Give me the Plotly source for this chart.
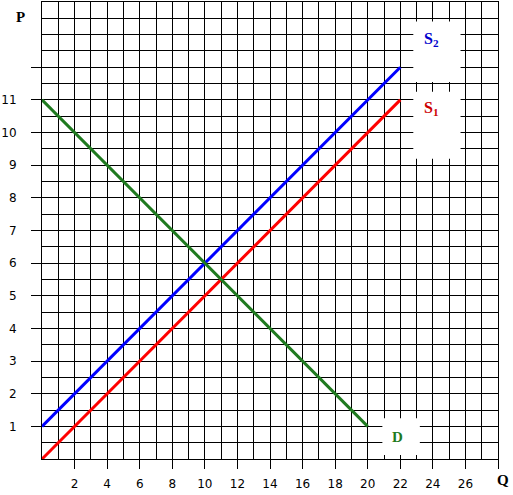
import plotly.graph_objects as go

# data
s1_q = [0, 22]
s1_p = [0, 11]
s2_q = [0, 22]
s2_p = [1, 12]
d_q = [0, 20]
d_p = [11, 1]
x_ticks = [2, 4, 6, 8, 10, 12, 14, 16, 18, 20, 22, 24, 26, 28]
x_labels = ["2", "4", "6", "8", "10", "12", "14", "16", "18", "20", "22", "24", "26", ""]
y_ticks = [1, 2, 3, 4, 5, 6, 7, 8, 9, 10, 11, 12]
y_labels = ["1", "2", "3", "4", "5", "6", "7", "8", "9", "10", "11", ""]

fig = go.Figure()
fig.add_trace(go.Scatter(x=s2_q, y=s2_p, mode="lines", line=dict(color="#0000ff", width=3), showlegend=False))
fig.add_trace(go.Scatter(x=s1_q, y=s1_p, mode="lines", line=dict(color="#ff0000", width=3), showlegend=False))
fig.add_trace(go.Scatter(x=d_q, y=d_p, mode="lines", line=dict(color="#1f7a1f", width=3), showlegend=False))

# white label boxes
for x0, x1, y0, y1 in [(22.8, 25.7, 11.55, 13.4), (22.8, 25.7, 9.2, 11.25), (20.9, 23.2, 0.12, 1.25)]:
    fig.add_shape(type="rect", xref="x", yref="y", x0=x0, x1=x1, y0=y0, y1=y1,
                  fillcolor="white", line=dict(width=0), layer="above")

serif = "Liberation Serif"
ann = dict(showarrow=False, xanchor="center", yanchor="middle")
fig.add_annotation(x=23.9, y=12.84, xref="x", yref="y", text="<b>S<sub>2</sub></b>",
                   font=dict(family=serif, size=16, color="#0000cc"), **ann)
fig.add_annotation(x=23.9, y=10.75, xref="x", yref="y", text="<b>S<sub>1</sub></b>",
                   font=dict(family=serif, size=16, color="#cc0000"), **ann)
fig.add_annotation(x=21.85, y=0.67, xref="x", yref="y", text="<b>D</b>",
                   font=dict(family=serif, size=15, color="#1f7a1f"), **ann)
fig.add_annotation(x=-0.048, y=0.967, xref="x domain", yref="y domain", text="<b>P</b>",
                   font=dict(family=serif, size=15, color="black"), **ann)
fig.add_annotation(x=1.011, y=-0.046, xref="x domain", yref="y domain", text="<b>Q</b>",
                   font=dict(family=serif, size=15, color="black"), **ann)

fig.update_xaxes(range=[0, 28], tickmode="array", tickvals=x_ticks, ticktext=x_labels,
                 ticks="outside", ticklen=9, tickcolor="black", tickwidth=1,
                 showgrid=True, gridcolor="black", gridwidth=1, zeroline=False,
                 showline=True, linecolor="black", linewidth=1, mirror=True,
                 minor=dict(dtick=1, tick0=0, showgrid=True, gridcolor="black", gridwidth=1),
                 tickfont=dict(family="DejaVu Sans", size=12, color="black"), ticklabelstandoff=5)
fig.update_yaxes(range=[0, 14], tickmode="array", tickvals=y_ticks, ticktext=y_labels,
                 ticks="outside", ticklen=10, tickcolor="black", tickwidth=1,
                 showgrid=True, gridcolor="black", gridwidth=1, zeroline=False,
                 showline=True, linecolor="black", linewidth=1, mirror=True,
                 minor=dict(dtick=0.5, tick0=0, showgrid=True, gridcolor="black", gridwidth=1),
                 tickfont=dict(family="DejaVu Sans", size=12, color="black"), ticklabelstandoff=12)

fig.update_layout(width=513, height=495, margin=dict(l=42, r=15, t=2, b=36),
                  plot_bgcolor="white", paper_bgcolor="white")
fig.write_html("out.html", config={"displayModeBar": False},
               post_script="document.body.style.margin='0px';")
